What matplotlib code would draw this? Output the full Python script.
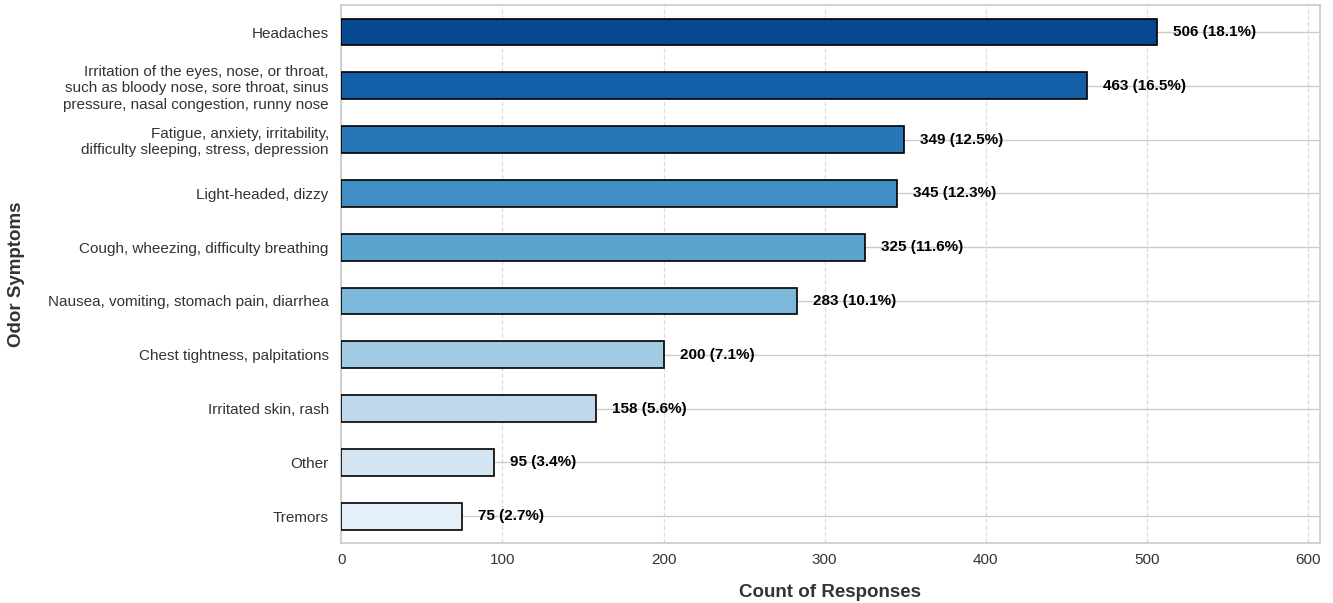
import matplotlib
matplotlib.use("Agg")
import matplotlib.pyplot as plt
import seaborn as sns

categories = [
    "Headaches",
    "Irritation of the eyes, nose, or throat,\nsuch as bloody nose, sore throat, sinus\npressure, nasal congestion, runny nose",
    "Fatigue, anxiety, irritability,\ndifficulty sleeping, stress, depression",
    "Light-headed, dizzy",
    "Cough, wheezing, difficulty breathing",
    "Nausea, vomiting, stomach pain, diarrhea",
    "Chest tightness, palpitations",
    "Irritated skin, rash",
    "Other",
    "Tremors",
]
counts = [506, 463, 349, 345, 325, 283, 200, 158, 95, 75]
xticks = [0, 100, 200, 300, 400, 500, 600]

sns.set_theme(style="whitegrid")
plt.rcParams['font.family'] = ['Liberation Sans', 'DejaVu Sans']

fig = plt.figure(figsize=(13.33, 6.03), dpi=100)
ax = fig.add_axes([0.256, 0.0995, 0.734, 0.892])

total = sum(counts)
colors = sns.color_palette("Blues", len(counts))[::-1]
ypos = list(range(len(counts)))
ax.barh(ypos, counts, height=0.5, color=colors, edgecolor="black", linewidth=1.2, zorder=3)

for y, v in zip(ypos, counts):
    ax.text(v + 10, y, f"{v} ({v / total * 100:.1f}%)", va="center", ha="left",
            fontsize=11, fontweight="bold", color="black", zorder=4)

ax.set_yticks(ypos)
ax.set_yticklabels(categories, fontsize=11, color="#333333")
ax.set_ylim(len(counts) - 0.5, -0.5)
ax.set_xlim(0, max(counts) * 1.2)
ax.set_xticks(xticks)
ax.set_xticklabels([str(t) for t in xticks], fontsize=11, color="#333333")
ax.tick_params(axis="x", pad=1)
ax.tick_params(axis="y", pad=3)

ax.xaxis.grid(True, linestyle="--", color="#dddddd", linewidth=0.9)
ax.yaxis.grid(True, linestyle="-", color="#cccccc", linewidth=1.0)
ax.set_axisbelow(True)
for s in ax.spines.values():
    s.set_color("#cccccc")

ax.set_xlabel("Count of Responses", fontsize=13.5, fontweight="bold", color="#333333")
ax.set_ylabel("Odor Symptoms", fontsize=13.5, fontweight="bold", color="#333333")
ax.xaxis.label.set_va("center")
ax.yaxis.label.set_va("center")
ax.xaxis.set_label_coords((830 - 341) / 979, -(593 - 543) / 538)
ax.yaxis.set_label_coords(-(341 - 16) / 979, (543 - 274) / 538)

fig.savefig("out.png", dpi=100)
